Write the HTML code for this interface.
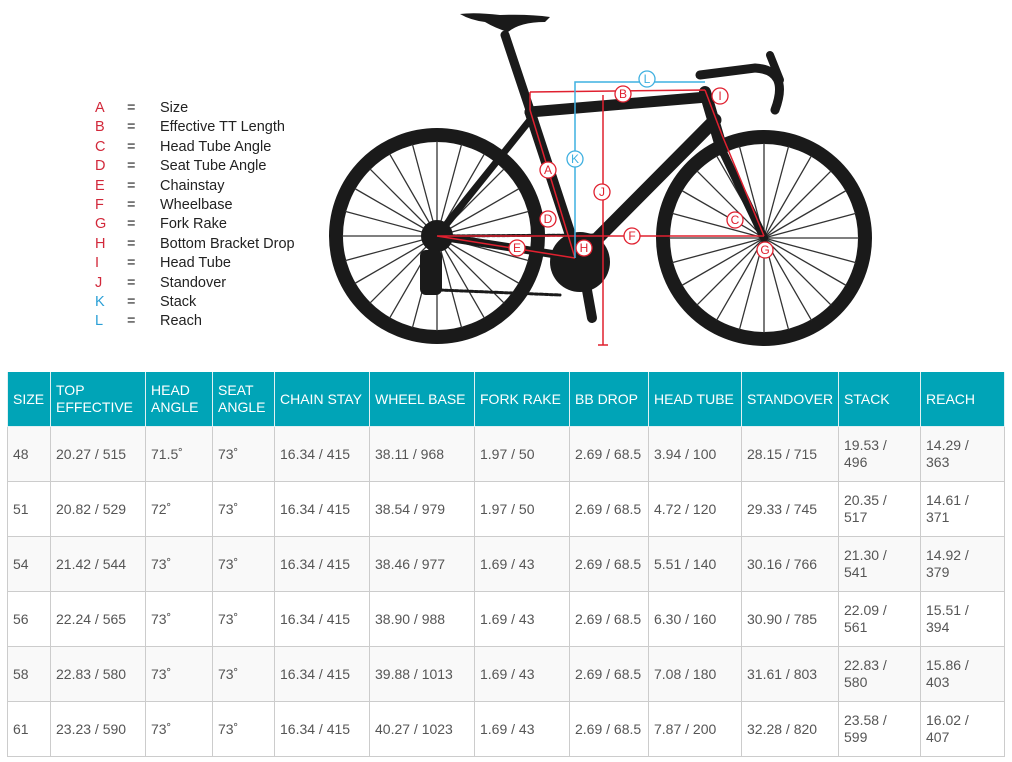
<!DOCTYPE html>
<html><head><style>
body{margin:0;width:1012px;height:762px;background:#fff;overflow:hidden;position:relative;font-family:"Liberation Sans",Arial,sans-serif}
.lg{position:absolute;font-size:14.5px;color:#222;line-height:19.4px}
.lg div{height:19.4px;white-space:nowrap}
.lg span{display:inline-block}
table{position:absolute;left:7px;top:372px;border-collapse:collapse;table-layout:fixed;width:997px}
td,th{border:1px solid #ccc;font-size:14px;color:#555;text-align:left;padding:0 5px;vertical-align:middle;font-weight:normal;line-height:17px}
th{background:#00a4b7;color:#fff;height:54px;border-color:#e0f0f2;border-top:none}
td{height:54px}
tr.g td{background:#f9f9f9}
</style></head><body>
<div class="lg" style="left:95px;top:99px">
<div><span style="width:32px;color:#d2283a">A</span><span style="width:33px">=</span>Size</div>
<div><span style="width:32px;color:#d2283a">B</span><span style="width:33px">=</span>Effective TT Length</div>
<div><span style="width:32px;color:#d2283a">C</span><span style="width:33px">=</span>Head Tube Angle</div>
<div><span style="width:32px;color:#d2283a">D</span><span style="width:33px">=</span>Seat Tube Angle</div>
<div><span style="width:32px;color:#d2283a">E</span><span style="width:33px">=</span>Chainstay</div>
<div><span style="width:32px;color:#d2283a">F</span><span style="width:33px">=</span>Wheelbase</div>
<div><span style="width:32px;color:#d2283a">G</span><span style="width:33px">=</span>Fork Rake</div>
<div><span style="width:32px;color:#d2283a">H</span><span style="width:33px">=</span>Bottom Bracket Drop</div>
<div><span style="width:32px;color:#d2283a">I</span><span style="width:33px">=</span>Head Tube</div>
<div><span style="width:32px;color:#d2283a">J</span><span style="width:33px">=</span>Standover</div>
<div><span style="width:32px;color:#2a9fd6">K</span><span style="width:33px">=</span>Stack</div>
<div><span style="width:32px;color:#2a9fd6">L</span><span style="width:33px">=</span>Reach</div>
</div>
<svg width="1012" height="362" style="position:absolute;left:0;top:0">
<defs><line id="sp" x1="0" y1="0" x2="0" y2="-95" stroke="#333" stroke-width="1.3"/></defs>
<g transform="translate(437,236)">
<circle r="101" fill="none" stroke="#1a1a1a" stroke-width="14"/>
<use href="#sp"/><use href="#sp" transform="rotate(15)"/><use href="#sp" transform="rotate(30)"/><use href="#sp" transform="rotate(45)"/><use href="#sp" transform="rotate(60)"/><use href="#sp" transform="rotate(75)"/><use href="#sp" transform="rotate(90)"/><use href="#sp" transform="rotate(105)"/><use href="#sp" transform="rotate(120)"/><use href="#sp" transform="rotate(135)"/><use href="#sp" transform="rotate(150)"/><use href="#sp" transform="rotate(165)"/><use href="#sp" transform="rotate(180)"/><use href="#sp" transform="rotate(195)"/><use href="#sp" transform="rotate(210)"/><use href="#sp" transform="rotate(225)"/><use href="#sp" transform="rotate(240)"/><use href="#sp" transform="rotate(255)"/><use href="#sp" transform="rotate(270)"/><use href="#sp" transform="rotate(285)"/><use href="#sp" transform="rotate(300)"/><use href="#sp" transform="rotate(315)"/><use href="#sp" transform="rotate(330)"/><use href="#sp" transform="rotate(345)"/>
</g>
<g transform="translate(764,238)">
<circle r="101" fill="none" stroke="#1a1a1a" stroke-width="14"/>
<use href="#sp"/><use href="#sp" transform="rotate(15)"/><use href="#sp" transform="rotate(30)"/><use href="#sp" transform="rotate(45)"/><use href="#sp" transform="rotate(60)"/><use href="#sp" transform="rotate(75)"/><use href="#sp" transform="rotate(90)"/><use href="#sp" transform="rotate(105)"/><use href="#sp" transform="rotate(120)"/><use href="#sp" transform="rotate(135)"/><use href="#sp" transform="rotate(150)"/><use href="#sp" transform="rotate(165)"/><use href="#sp" transform="rotate(180)"/><use href="#sp" transform="rotate(195)"/><use href="#sp" transform="rotate(210)"/><use href="#sp" transform="rotate(225)"/><use href="#sp" transform="rotate(240)"/><use href="#sp" transform="rotate(255)"/><use href="#sp" transform="rotate(270)"/><use href="#sp" transform="rotate(285)"/><use href="#sp" transform="rotate(300)"/><use href="#sp" transform="rotate(315)"/><use href="#sp" transform="rotate(330)"/><use href="#sp" transform="rotate(345)"/>
</g>
<g stroke="#1a1a1a" stroke-linecap="round" fill="none">
<path d="M505,35 L530,110" stroke-width="9"/>
<path d="M530,112 L707,97" stroke-width="11"/>
<path d="M530,112 L578,258" stroke-width="11"/>
<path d="M715,120 L578,258" stroke-width="13"/>
<path d="M705,92 L722,150" stroke-width="12"/>
<path d="M722,150 L764,238" stroke-width="8"/>
<path d="M530,120 L437,236" stroke-width="7"/>
<path d="M578,258 L437,236" stroke-width="8"/>
<path d="M700,75 L755,68 Q790,70 775,110" stroke-width="9"/>
<path d="M770,55 L780,80" stroke-width="8"/>
<path d="M583,268 L592,318" stroke-width="10"/>
<path d="M437,236 L600,235 M440,290 L560,295" stroke-width="3" stroke-dasharray="3 2"/>
</g>
<path d="M460,14 Q475,12 500,15 Q530,14 550,17 L545,22 Q520,22 508,32 Q495,28 485,22 Q470,20 460,14 Z" fill="#1a1a1a"/>
<circle cx="580" cy="262" r="30" fill="#1a1a1a"/>
<circle cx="437" cy="236" r="16" fill="#1a1a1a"/>
<rect x="420" y="250" width="22" height="45" rx="6" fill="#1a1a1a"/>
<g stroke="#e0202f" stroke-width="1.5" fill="none">
<path d="M530,92 L705,90 M530,92 L530,110 M705,90 L722,135 L764,236 M530,110 L575,258 M437,236 L575,258 M437,236 L764,236 M603,95 L603,345 M598,345 L608,345"/>
</g>
<g stroke="#3fb0e0" stroke-width="1.5" fill="none"><path d="M575,258 L575,82 L705,82"/></g>
<g font-family="Liberation Sans,sans-serif" font-size="12" text-anchor="middle">
<g fill="#fff" stroke="#e0202f" stroke-width="1.3">
<circle cx="623" cy="94" r="8"/><circle cx="720" cy="96" r="8"/><circle cx="548" cy="170" r="8"/><circle cx="602" cy="192" r="8"/><circle cx="548" cy="219" r="8"/><circle cx="517" cy="248" r="8"/><circle cx="584" cy="248" r="8"/><circle cx="632" cy="236" r="8"/><circle cx="735" cy="220" r="8"/><circle cx="765" cy="250" r="8"/></g>
<g fill="#fff" stroke="#3fb0e0" stroke-width="1.3"><circle cx="647" cy="79" r="8"/><circle cx="575" cy="159" r="8"/></g>
<g fill="#e0202f"><text x="623" y="98">B</text><text x="720" y="100">I</text><text x="548" y="174">A</text><text x="602" y="196">J</text><text x="548" y="223">D</text><text x="517" y="252">E</text><text x="584" y="252">H</text><text x="632" y="240">F</text><text x="735" y="224">C</text><text x="765" y="254">G</text></g>
<g fill="#3fb0e0"><text x="647" y="83">L</text><text x="575" y="163">K</text></g>
</g>
</svg>
<table>
<colgroup><col style="width:43px"><col style="width:95px"><col style="width:67px"><col style="width:62px"><col style="width:95px"><col style="width:105px"><col style="width:95px"><col style="width:79px"><col style="width:93px"><col style="width:97px"><col style="width:82px"><col style="width:84px"></colgroup>
<tr><th>SIZE</th><th>TOP EFFECTIVE</th><th>HEAD ANGLE</th><th>SEAT ANGLE</th><th>CHAIN STAY</th><th>WHEEL BASE</th><th>FORK RAKE</th><th>BB DROP</th><th>HEAD TUBE</th><th>STANDOVER</th><th>STACK</th><th>REACH</th></tr>
<tr class="g"><td>48</td><td>20.27 / 515</td><td>71.5˚</td><td>73˚</td><td>16.34 / 415</td><td>38.11 / 968</td><td>1.97 / 50</td><td>2.69 / 68.5</td><td>3.94 / 100</td><td>28.15 / 715</td><td>19.53 /<br>496</td><td>14.29 /<br>363</td></tr>
<tr><td>51</td><td>20.82 / 529</td><td>72˚</td><td>73˚</td><td>16.34 / 415</td><td>38.54 / 979</td><td>1.97 / 50</td><td>2.69 / 68.5</td><td>4.72 / 120</td><td>29.33 / 745</td><td>20.35 /<br>517</td><td>14.61 /<br>371</td></tr>
<tr class="g"><td>54</td><td>21.42 / 544</td><td>73˚</td><td>73˚</td><td>16.34 / 415</td><td>38.46 / 977</td><td>1.69 / 43</td><td>2.69 / 68.5</td><td>5.51 / 140</td><td>30.16 / 766</td><td>21.30 /<br>541</td><td>14.92 /<br>379</td></tr>
<tr><td>56</td><td>22.24 / 565</td><td>73˚</td><td>73˚</td><td>16.34 / 415</td><td>38.90 / 988</td><td>1.69 / 43</td><td>2.69 / 68.5</td><td>6.30 / 160</td><td>30.90 / 785</td><td>22.09 /<br>561</td><td>15.51 /<br>394</td></tr>
<tr class="g"><td>58</td><td>22.83 / 580</td><td>73˚</td><td>73˚</td><td>16.34 / 415</td><td>39.88 / 1013</td><td>1.69 / 43</td><td>2.69 / 68.5</td><td>7.08 / 180</td><td>31.61 / 803</td><td>22.83 /<br>580</td><td>15.86 /<br>403</td></tr>
<tr><td>61</td><td>23.23 / 590</td><td>73˚</td><td>73˚</td><td>16.34 / 415</td><td>40.27 / 1023</td><td>1.69 / 43</td><td>2.69 / 68.5</td><td>7.87 / 200</td><td>32.28 / 820</td><td>23.58 /<br>599</td><td>16.02 /<br>407</td></tr>
</table>
</body></html>
